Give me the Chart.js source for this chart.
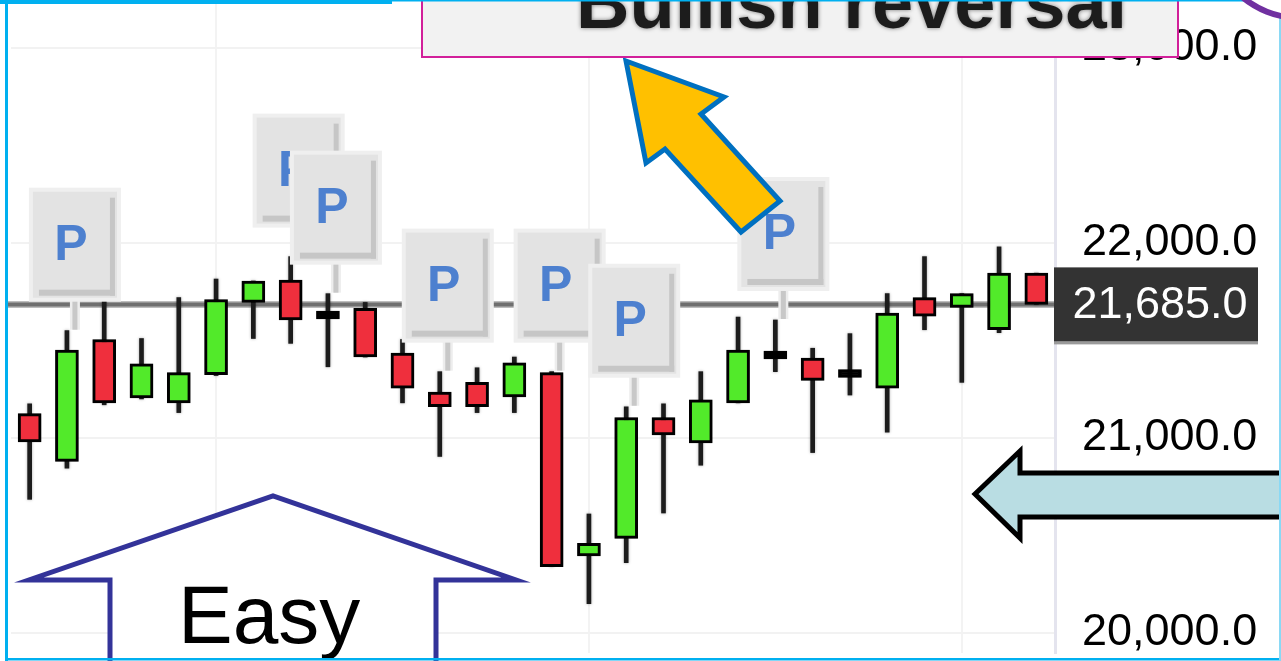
<!DOCTYPE html>
<html><head><meta charset="utf-8">
<script src="https://cdn.jsdelivr.net/npm/chart.js@4.4.1/dist/chart.umd.min.js"></script>
<style>html,body{margin:0;padding:0;background:#fff;overflow:hidden}#wrap{width:1281px;height:661px;position:relative}</style>
</head><body><div id="wrap"><canvas id="c" width="1281" height="661"></canvas></div>
<script>
// ---- data ----
const sessions = ['1','2','3','4','5','6','7','8','9','10','11','12','13','14','15','16','17','18','19','20','21','22','23','24','25','26','27','28'];
const opens  = [21125,20880,21505,21205,21180,21325,21695,21810,21610,21665,21435,21235,21285,21210,21335,20395,20485,21105,20975,21180,21405,21410,21310,21255,21720,21670,21555,21845];
const highs  = [21175,21550,21765,21510,21720,21815,21805,21930,21740,21695,21505,21340,21360,21415,21340,20610,21160,21175,21340,21620,21605,21460,21535,21740,21930,21740,21980,21845];
const lows   = [20685,20845,21170,21200,21130,21320,21510,21485,21365,21415,21180,20905,21130,21130,20340,20150,20360,20615,20860,21180,21340,20925,21220,21030,21555,21285,21540,21685];
const closes = [20980,21450,21180,21380,21335,21710,21805,21605,21610,21415,21255,21160,21160,21385,20340,20460,21105,21015,21195,21450,21405,21295,21310,21640,21625,21740,21845,21685];
const tickValues = [20000,21000,22000,23000];
const patternBars = [1,7,8,11,14,16,20];
const patternLabel = 'P';
const lastPrice = 21685;
const calloutText = 'Bullish reversal';
const arrowText = 'Easy';

const BULL = '#52ea2a', BEAR = '#ef2f3d';
const AXIS_FONT = "'Liberation Sans',Arial,sans-serif";
function fmt(v){ return Math.round(v).toString().replace(/\B(?=(\d{3})+(?!\d))/g, ',') + '.0'; }

function poly(ctx, pts, fill, stroke, lw){
  ctx.beginPath();
  pts.forEach((p,i)=> i ? ctx.lineTo(p[0],p[1]) : ctx.moveTo(p[0],p[1]));
  ctx.closePath();
  ctx.fillStyle = fill; ctx.fill();
  ctx.lineJoin = 'miter'; ctx.lineWidth = lw; ctx.strokeStyle = stroke; ctx.stroke();
}

const overlay = {
  id: 'overlay',
  beforeDatasetsDraw(chart){
    const {ctx, chartArea: a, scales: {y}} = chart;
    const py = y.getPixelForValue(lastPrice);
    ctx.save();
    ctx.lineCap = 'butt';
    ctx.strokeStyle = '#bdbdbd'; ctx.lineWidth = 7;
    ctx.beginPath(); ctx.moveTo(8, py); ctx.lineTo(a.right, py); ctx.stroke();
    ctx.strokeStyle = '#6f6f6f'; ctx.lineWidth = 4;
    ctx.beginPath(); ctx.moveTo(8, py); ctx.lineTo(a.right, py); ctx.stroke();
    ctx.restore();
    ctx.save();
    ctx.shadowColor = 'rgba(0,0,0,0.35)'; ctx.shadowBlur = 3;
  },
  afterDatasetsDraw(chart){
    const ctx = chart.ctx;
    ctx.restore();
    const {x, y} = chart.scales;
    ctx.save();
    patternBars.forEach(i => {
      const cx = x.getPixelForValue(i) + 8;
      const hy = y.getPixelForValue(highs[i]);
      const bottom = hy - 33, w = 84, h = 106, top = bottom - h, left = cx - 42;
      ctx.fillStyle = '#ededed'; ctx.fillRect(cx - 5, bottom, 10, hy - bottom - 1);
      ctx.fillStyle = '#c8c8c8'; ctx.fillRect(cx - 2.5, bottom, 5, hy - bottom - 1);
      ctx.fillStyle = '#efefef'; ctx.fillRect(left - 4, top - 4, w + 8, h + 8);
      ctx.fillStyle = '#e3e3e3'; ctx.fillRect(left, top, w, h);
      ctx.fillStyle = '#c6c6c6';
      ctx.fillRect(left + w - 7, top + 6, 5, h - 8);
      ctx.fillRect(left + 6, top + h - 8, w - 8, 6);
      ctx.fillStyle = '#4d80cf';
      ctx.font = 'bold 50px "Liberation Sans", Arial, sans-serif';
      ctx.textAlign = 'center'; ctx.textBaseline = 'alphabetic';
      ctx.fillText(patternLabel, cx - 4, top + 68);
    });
    ctx.restore();
  },
  afterDraw(chart){
    const {ctx, scales: {y}} = chart;
    ctx.save();
    // "Easy" up arrow
    poly(ctx, [[110,675],[110,580],[29,580],[273,496],[516,580],[436,580],[436,675]], '#ffffff', '#333399', 5);
    ctx.fillStyle = '#000'; ctx.font = '82px "Liberation Sans", Arial, sans-serif';
    ctx.textAlign = 'left'; ctx.textBaseline = 'alphabetic';
    ctx.fillText(arrowText, 178, 643);
    // light blue left arrow
    poly(ctx, [[975,494],[1020,451],[1020,473],[1300,473],[1300,517],[1020,517],[1020,538]], '#b9dde3', '#000000', 5);
    // yellow arrow
    poly(ctx, [[626,61],[724,97],[701,114],[780,201],[741,232],[665,149],[646,163]], '#ffc000', '#0070c0', 5);
    // callout box
    ctx.fillStyle = '#f2f2f2'; ctx.fillRect(422, -5, 756, 62);
    ctx.strokeStyle = '#d2209a'; ctx.lineWidth = 2; ctx.strokeRect(422, -5, 756, 62);
    ctx.save();
    ctx.shadowColor = 'rgba(0,0,0,0.5)'; ctx.shadowBlur = 4;
    ctx.fillStyle = '#1c1c1c'; ctx.font = 'bold 74px "Liberation Sans", Arial, sans-serif';
    ctx.textAlign = 'left'; ctx.textBaseline = 'alphabetic';
    ctx.fillText(calloutText, 576, 28);
    ctx.restore();
    // price label
    const py = y.getPixelForValue(lastPrice);
    ctx.fillStyle = '#9a9a9a'; ctx.fillRect(1054, py + 37, 204, 3);
    ctx.fillStyle = '#333333'; ctx.fillRect(1054, py - 37, 204, 74);
    ctx.fillStyle = '#ffffff'; ctx.font = '45px ' + AXIS_FONT;
    ctx.textAlign = 'center'; ctx.textBaseline = 'middle';
    ctx.fillText(fmt(lastPrice), 1160, py + 1);
    // frame
    ctx.fillStyle = '#00b0f0'; ctx.fillRect(0, 0, 392, 4);
    ctx.fillRect(392, 0, 853, 1.5);
    ctx.fillRect(5, 0, 3, 661);
    ctx.fillRect(5, 658, 1276, 2.5);
    ctx.fillStyle = '#8ad9f5'; ctx.fillRect(1279, 18, 2, 643);
    // purple arc
    ctx.beginPath(); ctx.arc(1300, -72, 90, 0, Math.PI * 2);
    ctx.strokeStyle = '#7030a0'; ctx.lineWidth = 6; ctx.stroke();
    ctx.restore();
  }
};

new Chart(document.getElementById('c'), {
  type: 'bar',
  data: {
    labels: sessions,
    datasets: [
      {
        label: 'body',
        data: sessions.map((s, i) => [opens[i], closes[i]]),
        backgroundColor: c => {
          const i = c.dataIndex;
          return closes[i] > opens[i] ? BULL : (closes[i] < opens[i] ? BEAR : '#000');
        },
        borderColor: '#000', borderWidth: 3, borderSkipped: false,
        barThickness: 23, minBarLength: 8, grouped: false, order: 0
      },
      {
        label: 'wick',
        data: sessions.map((s, i) => [lows[i], highs[i]]),
        backgroundColor: '#1c1c1c', borderWidth: 0,
        barThickness: 4, grouped: false, order: 1
      }
    ]
  },
  options: {
    responsive: false, animation: false, devicePixelRatio: 1, events: [],
    layout: { padding: { left: 11, right: 0, top: 1, bottom: 8 } },
    plugins: { legend: { display: false }, tooltip: { enabled: false } },
    scales: {
      x: {
        offset: true,
        ticks: { display: false },
        border: { display: false },
        grid: { offset: false, drawTicks: false, lineWidth: 2,
          color: c => (c.index % 10 === 5 ? '#f3f3f3' : 'rgba(0,0,0,0)') }
      },
      y: {
        position: 'right', min: 19897, max: 23241,
        afterBuildTicks: s => { s.ticks = tickValues.map(v => ({ value: v })); },
        afterFit: s => { s.width = 226; s.paddingTop = 0; s.paddingBottom = 0; },
        ticks: { padding: 27, color: '#000', font: { family: AXIS_FONT, size: 45 }, callback: v => fmt(v) },
        grid: { color: '#f2f2f2', lineWidth: 2, drawTicks: false },
        border: { color: '#e4e4ee', width: 3 }
      }
    }
  },
  plugins: [overlay]
});
</script>
</body></html>
